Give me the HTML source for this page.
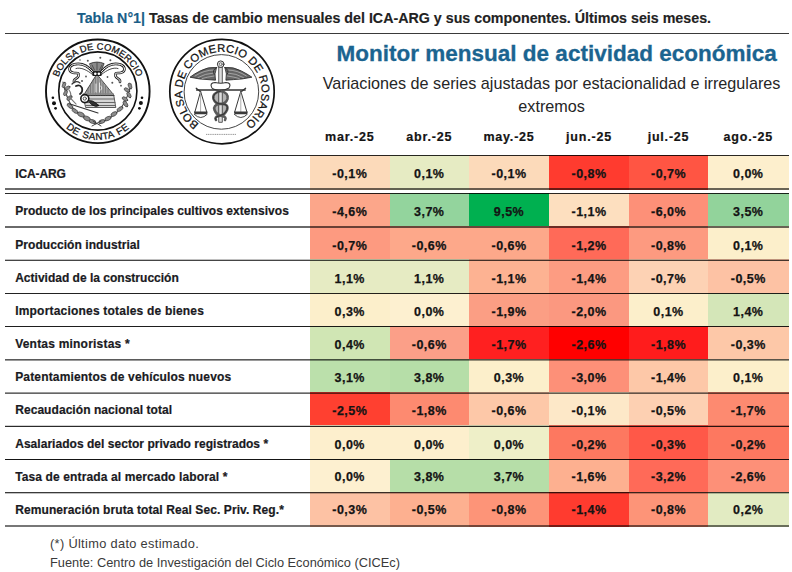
<!DOCTYPE html>
<html lang="es"><head><meta charset="utf-8"><title>Tabla N°1</title>
<style>
*{margin:0;padding:0;box-sizing:border-box}
html,body{width:792px;height:572px;background:#fff;overflow:hidden}
body{position:relative;font-family:"Liberation Sans",sans-serif;color:#1c1c1c}
.a{position:absolute;white-space:pre;line-height:1}
.b{font-weight:bold}
.ln{position:absolute;left:5px;width:784px}
.cell{position:absolute}
.v{position:absolute;-webkit-text-stroke:0.25px #141414;font-weight:bold;text-align:center;line-height:1;font-size:12.5px;letter-spacing:0.45px;color:#141414}
.lb{position:absolute;-webkit-text-stroke:0.2px #1a1a22;left:15.2px;font-weight:bold;font-size:12px;line-height:1;white-space:pre;color:#1a1a22}
.hd{position:absolute;-webkit-text-stroke:0.2px #141414;font-weight:bold;text-align:center;line-height:1;font-size:12.5px;letter-spacing:0.8px;color:#141414}
</style></head>
<body>

<svg class="a" style="left:0;top:0" width="300" height="160" viewBox="0 0 300 160">
<defs>
<path id="p1t" d="M56.73,98.54 A41.7,41.7 0 1 1 138.87,98.54"/>
<path id="p1b" d="M49.94,82.86 A48.6,48.6 0 1 0 145.66,82.86"/>
<path id="p2t" d="M221.31,131.19 A39.6,39.6 0 1 1 222.69,131.19"/>
</defs>
<g fill="none" stroke="#111">
<circle cx="97.8" cy="91.3" r="51.8" stroke-width="1.9"/>
<circle cx="97.8" cy="91.0" r="39.1" stroke-width="1.6"/>
<circle cx="222.0" cy="91.6" r="52.2" stroke-width="1.7"/>
<circle cx="221.4" cy="91.89999999999999" r="37.3" stroke-width="1" stroke="#444"/>
</g>
<g font-family="Liberation Sans" fill="#111" stroke="#111" stroke-width="0.25" text-anchor="middle">
<text font-size="9.4" letter-spacing="0.1"><textPath href="#p1t" startOffset="50%">BOLSA DE COMERCIO</textPath></text>
<text font-size="9.8" letter-spacing="0.45" word-spacing="0.8"><textPath href="#p1b" startOffset="50%">DE SANTA FE</textPath></text>
<text font-size="11.2" letter-spacing="0.2"><textPath href="#p2t" startOffset="50%">BOLSA DE COMERCIO DE ROSARIO</textPath></text>
</g>
<g fill="#111">
<circle cx="52.9" cy="97.8" r="1.3"/><circle cx="54" cy="103.2" r="2"/><circle cx="55.6" cy="108.3" r="1.4"/>
<circle cx="142" cy="97.8" r="1.3"/><circle cx="140.9" cy="103.1" r="2"/><circle cx="139.4" cy="108.3" r="1.4"/>
</g>
<!-- logo1 inner drawing -->
<g stroke-linejoin="round" stroke-linecap="round">
<path d="M83.5,95.5 L113.8,95.5 L115.8,107.5 L86,107.5 Z" fill="#d6d6d6" stroke="#333" stroke-width="0.8"/>
<path d="M84.5,99 L114.3,99 M85,102.5 L115,102.5 M85.5,105.5 L115.4,105.5" stroke="#666" stroke-width="1.1" fill="none"/>
<path d="M96.6,74.5 L83.4,95.5 L113.8,95.5 Z" fill="#a2a2a2" stroke="#333" stroke-width="0.9"/>
<path d="M88,88 L88,95 M90.5,84 L90.5,95 M93,80 L93,95 M95.5,77 L95.5,95 M98,77 L98,95 M100.5,80 L100.5,95 M103,83 L103,95 M105.5,86 L105.5,95 M108,89 L108,95" stroke="#6a6a6a" stroke-width="0.7" fill="none"/>
<path d="M96,84 L96,92 M99.5,83 L99.5,92 M101,86 Q103,88 101,90" stroke="#e8e8e8" stroke-width="1" fill="none"/>
<path d="M83.5,94 L113.2,94" stroke="#888" stroke-width="1.6" fill="none"/>
<path d="M89.8,63.6 Q97,60.5 104.1,63.6 L100.7,71.5 L93.4,71.5 Z" fill="#8a8a8a" stroke="#222" stroke-width="0.8"/>
<path d="M92,65 L94.5,70 M97,63 L97,70 M102,65 L99.5,70" stroke="#333" stroke-width="0.7" fill="none"/>
<rect x="92.3" y="71.3" width="9.4" height="4.6" rx="1" fill="#1a1a1a"/>
<circle cx="95.3" cy="73.7" r="1.3" fill="#fff"/><circle cx="98.9" cy="73.7" r="1.3" fill="#fff"/>
<path d="M92.5,71.5 C88,66 81,62.5 73.5,64.5 C68,66.5 68.5,72 73,72.8 C77,73.5 79.5,72 78.5,76 C77.5,79 73,78.5 74,82" fill="none" stroke="#222" stroke-width="2.6"/><path d="M92.5,71.5 C88,66 81,62.5 73.5,64.5 C68,66.5 68.5,72 73,72.8 C77,73.5 79.5,72 78.5,76 C77.5,79 73,78.5 74,82" fill="none" stroke="#fff" stroke-width="1"/>
<path d="M92.5,74.5 C87,70 81,67 76,68.5" fill="none" stroke="#333" stroke-width="0.9"/>
<path d="M101.5,71.5 C106,66 113,62.5 120.5,64.5 C126,66.5 125.5,72 121,72.8 C117,73.5 114.5,72 115.5,76 C116.5,79 121,78.5 120,82" fill="none" stroke="#222" stroke-width="2.6"/><path d="M101.5,71.5 C106,66 113,62.5 120.5,64.5 C126,66.5 125.5,72 121,72.8 C117,73.5 114.5,72 115.5,76 C116.5,79 121,78.5 120,82" fill="none" stroke="#fff" stroke-width="1"/>
<path d="M101.5,74.5 C107,70 113,67 118,68.5" fill="none" stroke="#333" stroke-width="0.9"/>
<g fill="#555">
<circle cx="87.8" cy="60.7" r="1"/><circle cx="100.3" cy="57.8" r="1"/><circle cx="110.4" cy="60.2" r="1"/>
<circle cx="86" cy="76.5" r="0.9"/><circle cx="82" cy="81" r="1"/><circle cx="107.5" cy="77" r="0.9"/>
<circle cx="112.3" cy="82.8" r="1"/><circle cx="121" cy="85.7" r="0.9"/><circle cx="80" cy="60" r="0.8"/>
</g>
<!-- left branch -->
<path d="M63,82 Q66,98 73,108 Q83,119 96,124" fill="none" stroke="#444" stroke-width="1.1"/>
<g fill="#8c8c8c" stroke="#333" stroke-width="0.6">
<ellipse cx="64" cy="85" rx="2.88" ry="1.56" transform="rotate(-70 64 85)"/>
<ellipse cx="67.5" cy="88" rx="2.88" ry="1.56" transform="rotate(-30 67.5 88)"/>
<ellipse cx="65.5" cy="93" rx="2.88" ry="1.56" transform="rotate(-60 65.5 93)"/>
<ellipse cx="69.5" cy="98" rx="3.12" ry="1.68" transform="rotate(-40 69.5 98)"/>
<ellipse cx="70" cy="106" rx="3.36" ry="1.80" transform="rotate(40 70 106)"/>
<ellipse cx="75" cy="111" rx="3.36" ry="1.80" transform="rotate(35 75 111)"/>
<ellipse cx="81" cy="114.5" rx="3.60" ry="2.16" transform="rotate(25 81 114.5)"/>
<ellipse cx="87" cy="118.5" rx="3.60" ry="2.16" transform="rotate(25 87 118.5)"/>
<ellipse cx="92.5" cy="121.5" rx="3.36" ry="1.92" transform="rotate(15 92.5 121.5)"/>
</g>
<!-- right branch -->
<path d="M131,84 Q128,98 121,108 Q111,119 99,124" fill="none" stroke="#444" stroke-width="1.1"/>
<g fill="#8c8c8c" stroke="#333" stroke-width="0.6">
<ellipse cx="130" cy="86" rx="3.12" ry="1.68" transform="rotate(70 130 86)"/>
<ellipse cx="127" cy="90" rx="3.12" ry="1.68" transform="rotate(30 127 90)"/>
<ellipse cx="129" cy="95" rx="3.12" ry="1.68" transform="rotate(60 129 95)"/>
<ellipse cx="125" cy="99" rx="3.12" ry="1.68" transform="rotate(30 125 99)"/>
<ellipse cx="125.5" cy="104" rx="3.36" ry="1.80" transform="rotate(55 125.5 104)"/>
<ellipse cx="120" cy="109" rx="3.36" ry="1.80" transform="rotate(-35 120 109)"/>
<ellipse cx="114" cy="114" rx="3.36" ry="1.92" transform="rotate(-30 114 114)"/>
<ellipse cx="108" cy="118.5" rx="3.36" ry="1.92" transform="rotate(-25 108 118.5)"/>
<ellipse cx="102" cy="121.5" rx="3.12" ry="1.80" transform="rotate(-15 102 121.5)"/>
</g>
<path d="M92,126 L101,121 M93,121 L101,126" stroke="#333" stroke-width="0.9" fill="none"/>
<!-- horn / snake on left -->
<path d="M76,86 Q80,84 82,88 Q83,92 80,94" fill="none" stroke="#222" stroke-width="1.8"/>
<path d="M72,84 Q76,80 80,83" fill="none" stroke="#333" stroke-width="1.2"/>
<circle cx="84.8" cy="98.6" r="4" fill="#fff" stroke="#1a1a1a" stroke-width="1.6"/>
<circle cx="84.8" cy="98.6" r="1.6" fill="none" stroke="#444" stroke-width="0.9"/>
<path d="M88.5,100.5 Q93,100.5 95,102.5 L99,105.5 Q96,107.5 92,105 Z" fill="#333" stroke="#111" stroke-width="0.9"/>
<path d="M70,104 L98,113" stroke="#333" stroke-width="1.1" fill="none"/>
<path d="M67,96 Q72,99 76,104 M69,90 Q72,94 70,98" stroke="#777" stroke-width="1.2" fill="none"/>
</g>
<!-- logo2 inner drawing -->
<g stroke-linejoin="round" stroke-linecap="round">
<path d="M214,93 Q212.5,99 215,104 Q213,110 216,116 L225,116 Q228,110 226,104 Q228.5,99 227,93 Z" fill="#b4b4b4" stroke="none"/>
<rect x="219.1" y="67" width="3.2" height="55.3" fill="#ddd" stroke="#333" stroke-width="0.8"/>
<circle cx="220.7" cy="64.2" r="3.3" fill="#eee" stroke="#333" stroke-width="1"/>
<circle cx="220.7" cy="64.2" r="1.5" fill="none" stroke="#444" stroke-width="0.7"/>
<path d="M216.5,67.5 Q208,66.5 200,71 Q194,74 190,77.2 Q200,79.5 208,79.6 L215.5,80.2 Q214,74 216.5,67.5 Z" fill="#666" stroke="#222" stroke-width="0.8"/>
<path d="M224.9,67.5 Q233.4,66.5 241.4,71 Q247.4,74 251.9,77.2 Q241.4,79.5 233.4,79.6 L225.9,80.2 Q227.4,74 224.9,67.5 Z" fill="#666" stroke="#222" stroke-width="0.8"/>
<path d="M214,70 Q204,70 195,76 M214,73 Q205,73.5 198,77.5 M214,76 Q207,77 202,78.6 M227.4,70 Q237.4,70 246.4,76 M227.4,73 Q236.4,73.5 243.4,77.5 M227.4,76 Q234.4,77 239.4,78.6" stroke="#cfcfcf" stroke-width="0.6" fill="none"/>
<path d="M216,68 Q212,70 214,74 M225.4,68 Q229.4,70 227.4,74" stroke="#333" stroke-width="1" fill="none"/>
<path d="M212,88 Q209,83 215,82.5 Q221,84 226,82.5 Q232,83 229,88 Q224,91 217,90 Q213,89.5 212,88 Z" fill="#fff" stroke="#333" stroke-width="1.1"/>
<path d="M196.6,90 L245.2,90" stroke="#333" stroke-width="1.4" fill="none"/>
<path d="M196.2,88.3 L200,91.3 M245.6,88.3 L241.8,91.3" stroke="#333" stroke-width="1.3" fill="none"/>
<path d="M200.6,91.3 L194.8,112.3 M200.6,91.3 L206.8,112.3 M240.8,91.3 L234.6,112.3 M240.8,91.3 L247,112.3" stroke="#222" stroke-width="0.9" fill="none"/>
<path d="M200.6,92 L200.6,112 M240.8,92 L240.8,112" stroke="#999" stroke-width="0.8" fill="none"/>
<path d="M194,111.6 L207.5,111.6 L207,114.3 L194.5,114.3 Z M234,111.6 L247.6,111.6 L247.1,114.3 L234.5,114.3 Z" fill="#3a3a3a"/>
<path d="M194.3,114.3 Q200.7,121 207.2,114.3 M234.3,114.3 Q240.8,121 247.3,114.3" stroke="#333" stroke-width="0.9" fill="none"/>
<path d="M220.7,91 Q212,93 213.5,99 Q215,104 222,104 Q229,104 227,110 Q225,115 219,116 Q214,117 216,120 M220.7,91 Q229,93 227.5,99 Q226,104 219.5,104 Q213,105 214.5,110 Q216.5,115 222,116 Q227,117 225,120" fill="none" stroke="#5a5a5a" stroke-width="2.6"/>
<path d="M220.7,91 Q212,93 213.5,99 Q215,104 222,104 Q229,104 227,110 Q225,115 219,116 Q214,117 216,120" fill="none" stroke="#222" stroke-width="0.7"/>
</g>
<path d="M206,134.4 L236.5,134.4" stroke="#999" stroke-width="1" stroke-dasharray="1.2 0.6" fill="none"/>
</svg>
<div class="a b" style="left:77px;top:10.84px;font-size:14.25px;color:#222;-webkit-text-stroke:0.15px #222"><span style="color:#1a5e88;-webkit-text-stroke:0.15px #1a5e88">Tabla N°1|</span> Tasas de cambio mensuales del ICA-ARG y sus componentes. Últimos seis meses.</div><div class="ln" style="top:33px;height:1px;background:#3a3a3a"></div><div class="a b" style="left:336.6px;top:43.15px;font-size:22.5px;color:#1b6490;-webkit-text-stroke:0.3px #1b6490">Monitor mensual de actividad económica</div><div class="a" style="left:251.6px;width:600px;text-align:center;top:74.99px;font-size:16.2px;color:#262626">Variaciones de series ajustadas por estacionalidad e irregulares</div><div class="a" style="left:251.6px;width:600px;text-align:center;top:98.39px;font-size:16.2px;color:#262626">extremos</div><div class="hd" style="left:310.0px;width:79.5px;top:130.92px">mar.-25</div><div class="hd" style="left:389.5px;width:79.5px;top:130.92px">abr.-25</div><div class="hd" style="left:469.0px;width:80.0px;top:130.92px">may.-25</div><div class="hd" style="left:549.0px;width:80.0px;top:130.92px">jun.-25</div><div class="hd" style="left:629.0px;width:79.0px;top:130.92px">jul.-25</div><div class="hd" style="left:708.0px;width:80.5px;top:130.92px">ago.-25</div><div class="cell" style="left:310.0px;top:155.0px;width:79.5px;height:35px;background:#fcdaba"></div><div class="cell" style="left:389.5px;top:155.0px;width:79.5px;height:35px;background:#e6ebc3"></div><div class="cell" style="left:469.0px;top:155.0px;width:80.0px;height:35px;background:#fcdaba"></div><div class="cell" style="left:549.0px;top:155.0px;width:80.0px;height:35px;background:#ff3b2f"></div><div class="cell" style="left:629.0px;top:155.0px;width:79.0px;height:35px;background:#ff5543"></div><div class="cell" style="left:708.0px;top:155.0px;width:80.5px;height:35px;background:#fdefcd"></div><div class="lb" style="top:167.84px;letter-spacing:-0.117px">ICA-ARG</div><div class="v" style="left:310.0px;width:79.5px;top:167.72px">-0,1%</div><div class="v" style="left:389.5px;width:79.5px;top:167.72px">0,1%</div><div class="v" style="left:469.0px;width:80.0px;top:167.72px">-0,1%</div><div class="v" style="left:549.0px;width:80.0px;top:167.72px">-0,8%</div><div class="v" style="left:629.0px;width:79.0px;top:167.72px">-0,7%</div><div class="v" style="left:708.0px;width:80.5px;top:167.72px">0,0%</div><div class="cell" style="left:310.0px;top:193.0px;width:79.5px;height:35px;background:#fca68a"></div><div class="cell" style="left:389.5px;top:193.0px;width:79.5px;height:35px;background:#93d49d"></div><div class="cell" style="left:469.0px;top:193.0px;width:80.0px;height:35px;background:#00b050"></div><div class="cell" style="left:549.0px;top:193.0px;width:80.0px;height:35px;background:#fddfbf"></div><div class="cell" style="left:629.0px;top:193.0px;width:79.0px;height:35px;background:#fd9078"></div><div class="cell" style="left:708.0px;top:193.0px;width:80.5px;height:35px;background:#92d39b"></div><div class="lb" style="top:205.14px;letter-spacing:0.048px">Producto de los principales cultivos extensivos</div><div class="v" style="left:310.0px;width:79.5px;top:205.72px">-4,6%</div><div class="v" style="left:389.5px;width:79.5px;top:205.72px">3,7%</div><div class="v" style="left:469.0px;width:80.0px;top:205.72px">9,5%</div><div class="v" style="left:549.0px;width:80.0px;top:205.72px">-1,1%</div><div class="v" style="left:629.0px;width:79.0px;top:205.72px">-6,0%</div><div class="v" style="left:708.0px;width:80.5px;top:205.72px">3,5%</div><div class="cell" style="left:310.0px;top:226.0px;width:79.5px;height:35px;background:#fd9a80"></div><div class="cell" style="left:389.5px;top:226.0px;width:79.5px;height:35px;background:#fda88a"></div><div class="cell" style="left:469.0px;top:226.0px;width:80.0px;height:35px;background:#fda88a"></div><div class="cell" style="left:549.0px;top:226.0px;width:80.0px;height:35px;background:#ff6a58"></div><div class="cell" style="left:629.0px;top:226.0px;width:79.0px;height:35px;background:#fd9a80"></div><div class="cell" style="left:708.0px;top:226.0px;width:80.5px;height:35px;background:#fcefcb"></div><div class="lb" style="top:238.54px;letter-spacing:0.070px">Producción industrial</div><div class="v" style="left:310.0px;width:79.5px;top:239.72px">-0,7%</div><div class="v" style="left:389.5px;width:79.5px;top:239.72px">-0,6%</div><div class="v" style="left:469.0px;width:80.0px;top:239.72px">-0,6%</div><div class="v" style="left:549.0px;width:80.0px;top:239.72px">-1,2%</div><div class="v" style="left:629.0px;width:79.0px;top:239.72px">-0,8%</div><div class="v" style="left:708.0px;width:80.5px;top:239.72px">0,1%</div><div class="cell" style="left:310.0px;top:259.0px;width:79.5px;height:35px;background:#e6ebc3"></div><div class="cell" style="left:389.5px;top:259.0px;width:79.5px;height:35px;background:#e6ebc3"></div><div class="cell" style="left:469.0px;top:259.0px;width:80.0px;height:35px;background:#fdb292"></div><div class="cell" style="left:549.0px;top:259.0px;width:80.0px;height:35px;background:#fd9c82"></div><div class="cell" style="left:629.0px;top:259.0px;width:79.0px;height:35px;background:#fdd2b4"></div><div class="cell" style="left:708.0px;top:259.0px;width:80.5px;height:35px;background:#fdc2a4"></div><div class="lb" style="top:271.94px;letter-spacing:0.007px">Actividad de la construcción</div><div class="v" style="left:310.0px;width:79.5px;top:272.82px">1,1%</div><div class="v" style="left:389.5px;width:79.5px;top:272.82px">1,1%</div><div class="v" style="left:469.0px;width:80.0px;top:272.82px">-1,1%</div><div class="v" style="left:549.0px;width:80.0px;top:272.82px">-1,4%</div><div class="v" style="left:629.0px;width:79.0px;top:272.82px">-0,7%</div><div class="v" style="left:708.0px;width:80.5px;top:272.82px">-0,5%</div><div class="cell" style="left:310.0px;top:293.0px;width:79.5px;height:34px;background:#fcefcb"></div><div class="cell" style="left:389.5px;top:293.0px;width:79.5px;height:34px;background:#fdf0d0"></div><div class="cell" style="left:469.0px;top:293.0px;width:80.0px;height:34px;background:#fb9e84"></div><div class="cell" style="left:549.0px;top:293.0px;width:80.0px;height:34px;background:#fb9880"></div><div class="cell" style="left:629.0px;top:293.0px;width:79.0px;height:34px;background:#fcefcb"></div><div class="cell" style="left:708.0px;top:293.0px;width:80.5px;height:34px;background:#d4e6b8"></div><div class="lb" style="top:305.14px;letter-spacing:0.200px">Importaciones totales de bienes</div><div class="v" style="left:310.0px;width:79.5px;top:305.82px">0,3%</div><div class="v" style="left:389.5px;width:79.5px;top:305.82px">0,0%</div><div class="v" style="left:469.0px;width:80.0px;top:305.82px">-1,9%</div><div class="v" style="left:549.0px;width:80.0px;top:305.82px">-2,0%</div><div class="v" style="left:629.0px;width:79.0px;top:305.82px">0,1%</div><div class="v" style="left:708.0px;width:80.5px;top:305.82px">1,4%</div><div class="cell" style="left:310.0px;top:326.0px;width:79.5px;height:35px;background:#d0e6b4"></div><div class="cell" style="left:389.5px;top:326.0px;width:79.5px;height:35px;background:#fb9f88"></div><div class="cell" style="left:469.0px;top:326.0px;width:80.0px;height:35px;background:#ff2020"></div><div class="cell" style="left:549.0px;top:326.0px;width:80.0px;height:35px;background:#ff0000"></div><div class="cell" style="left:629.0px;top:326.0px;width:79.0px;height:35px;background:#ff1c1c"></div><div class="cell" style="left:708.0px;top:326.0px;width:80.5px;height:35px;background:#fdc8a8"></div><div class="lb" style="top:338.14px;letter-spacing:0.206px">Ventas minoristas *</div><div class="v" style="left:310.0px;width:79.5px;top:338.82px">0,4%</div><div class="v" style="left:389.5px;width:79.5px;top:338.82px">-0,6%</div><div class="v" style="left:469.0px;width:80.0px;top:338.82px">-1,7%</div><div class="v" style="left:549.0px;width:80.0px;top:338.82px">-2,6%</div><div class="v" style="left:629.0px;width:79.0px;top:338.82px">-1,8%</div><div class="v" style="left:708.0px;width:80.5px;top:338.82px">-0,3%</div><div class="cell" style="left:310.0px;top:359.0px;width:79.5px;height:35px;background:#bbe0ab"></div><div class="cell" style="left:389.5px;top:359.0px;width:79.5px;height:35px;background:#b6dea8"></div><div class="cell" style="left:469.0px;top:359.0px;width:80.0px;height:35px;background:#fcefcb"></div><div class="cell" style="left:549.0px;top:359.0px;width:80.0px;height:35px;background:#fd9078"></div><div class="cell" style="left:629.0px;top:359.0px;width:79.0px;height:35px;background:#fdc8a8"></div><div class="cell" style="left:708.0px;top:359.0px;width:80.5px;height:35px;background:#fcefcb"></div><div class="lb" style="top:371.24px;letter-spacing:0.158px">Patentamientos de vehículos nuevos</div><div class="v" style="left:310.0px;width:79.5px;top:372.02px">3,1%</div><div class="v" style="left:389.5px;width:79.5px;top:372.02px">3,8%</div><div class="v" style="left:469.0px;width:80.0px;top:372.02px">0,3%</div><div class="v" style="left:549.0px;width:80.0px;top:372.02px">-3,0%</div><div class="v" style="left:629.0px;width:79.0px;top:372.02px">-1,4%</div><div class="v" style="left:708.0px;width:80.5px;top:372.02px">0,1%</div><div class="cell" style="left:310.0px;top:392.0px;width:79.5px;height:35px;background:#ff4030"></div><div class="cell" style="left:389.5px;top:392.0px;width:79.5px;height:35px;background:#fd8a70"></div><div class="cell" style="left:469.0px;top:392.0px;width:80.0px;height:35px;background:#fdc8a8"></div><div class="cell" style="left:549.0px;top:392.0px;width:80.0px;height:35px;background:#fde8c8"></div><div class="cell" style="left:629.0px;top:392.0px;width:79.0px;height:35px;background:#fdd0b2"></div><div class="cell" style="left:708.0px;top:392.0px;width:80.5px;height:35px;background:#fd8a70"></div><div class="lb" style="top:404.44px;letter-spacing:0.060px">Recaudación nacional total</div><div class="v" style="left:310.0px;width:79.5px;top:405.32px">-2,5%</div><div class="v" style="left:389.5px;width:79.5px;top:405.32px">-1,8%</div><div class="v" style="left:469.0px;width:80.0px;top:405.32px">-0,6%</div><div class="v" style="left:549.0px;width:80.0px;top:405.32px">-0,1%</div><div class="v" style="left:629.0px;width:79.0px;top:405.32px">-0,5%</div><div class="v" style="left:708.0px;width:80.5px;top:405.32px">-1,7%</div><div class="cell" style="left:310.0px;top:425.0px;width:79.5px;height:35px;background:#fdefcd"></div><div class="cell" style="left:389.5px;top:425.0px;width:79.5px;height:35px;background:#fdefcd"></div><div class="cell" style="left:469.0px;top:425.0px;width:80.0px;height:35px;background:#eeefc8"></div><div class="cell" style="left:549.0px;top:425.0px;width:80.0px;height:35px;background:#fd7860"></div><div class="cell" style="left:629.0px;top:425.0px;width:79.0px;height:35px;background:#ff5848"></div><div class="cell" style="left:708.0px;top:425.0px;width:80.5px;height:35px;background:#fd7860"></div><div class="lb" style="top:437.94px;letter-spacing:0.035px">Asalariados del sector privado registrados *</div><div class="v" style="left:310.0px;width:79.5px;top:438.52px">0,0%</div><div class="v" style="left:389.5px;width:79.5px;top:438.52px">0,0%</div><div class="v" style="left:469.0px;width:80.0px;top:438.52px">0,0%</div><div class="v" style="left:549.0px;width:80.0px;top:438.52px">-0,2%</div><div class="v" style="left:629.0px;width:79.0px;top:438.52px">-0,3%</div><div class="v" style="left:708.0px;width:80.5px;top:438.52px">-0,2%</div><div class="cell" style="left:310.0px;top:459.0px;width:79.5px;height:35px;background:#fdf0d0"></div><div class="cell" style="left:389.5px;top:459.0px;width:79.5px;height:35px;background:#b6dea8"></div><div class="cell" style="left:469.0px;top:459.0px;width:80.0px;height:35px;background:#b6dea8"></div><div class="cell" style="left:549.0px;top:459.0px;width:80.0px;height:35px;background:#fdb090"></div><div class="cell" style="left:629.0px;top:459.0px;width:79.0px;height:35px;background:#ff6a58"></div><div class="cell" style="left:708.0px;top:459.0px;width:80.5px;height:35px;background:#fd9078"></div><div class="lb" style="top:471.04px;letter-spacing:0.123px">Tasa de entrada al mercado laboral *</div><div class="v" style="left:310.0px;width:79.5px;top:471.32px">0,0%</div><div class="v" style="left:389.5px;width:79.5px;top:471.32px">3,8%</div><div class="v" style="left:469.0px;width:80.0px;top:471.32px">3,7%</div><div class="v" style="left:549.0px;width:80.0px;top:471.32px">-1,6%</div><div class="v" style="left:629.0px;width:79.0px;top:471.32px">-3,2%</div><div class="v" style="left:708.0px;width:80.5px;top:471.32px">-2,6%</div><div class="cell" style="left:310.0px;top:492.0px;width:79.5px;height:35px;background:#fdc2a4"></div><div class="cell" style="left:389.5px;top:492.0px;width:79.5px;height:35px;background:#fdb090"></div><div class="cell" style="left:469.0px;top:492.0px;width:80.0px;height:35px;background:#fd9478"></div><div class="cell" style="left:549.0px;top:492.0px;width:80.0px;height:35px;background:#ff3b2f"></div><div class="cell" style="left:629.0px;top:492.0px;width:79.0px;height:35px;background:#fd9478"></div><div class="cell" style="left:708.0px;top:492.0px;width:80.5px;height:35px;background:#e2ebc2"></div><div class="lb" style="top:504.04px;letter-spacing:0.093px">Remuneración bruta total Real Sec. Priv. Reg.*</div><div class="v" style="left:310.0px;width:79.5px;top:504.02px">-0,3%</div><div class="v" style="left:389.5px;width:79.5px;top:504.02px">-0,5%</div><div class="v" style="left:469.0px;width:80.0px;top:504.02px">-0,8%</div><div class="v" style="left:549.0px;width:80.0px;top:504.02px">-1,4%</div><div class="v" style="left:629.0px;width:79.0px;top:504.02px">-0,8%</div><div class="v" style="left:708.0px;width:80.5px;top:504.02px">0,2%</div><div class="ln" style="top:155px;height:1px;background:rgba(0,0,0,0.835)"></div><div class="ln" style="top:188px;height:1px;background:rgba(0,0,0,0.584)"></div><div class="ln" style="top:189px;height:1px;background:rgba(0,0,0,0.584)"></div><div class="ln" style="top:193px;height:1px;background:rgba(0,0,0,0.835)"></div><div class="ln" style="top:226px;height:1px;background:rgba(0,0,0,0.584)"></div><div class="ln" style="top:227px;height:1px;background:rgba(0,0,0,0.584)"></div><div class="ln" style="top:259px;height:1px;background:rgba(0,0,0,0.247)"></div><div class="ln" style="top:260px;height:1px;background:rgba(0,0,0,0.729)"></div><div class="ln" style="top:293px;height:1px;background:rgba(0,0,0,0.867)"></div><div class="ln" style="top:326px;height:1px;background:rgba(0,0,0,0.882)"></div><div class="ln" style="top:359px;height:1px;background:rgba(0,0,0,0.647)"></div><div class="ln" style="top:360px;height:1px;background:rgba(0,0,0,0.396)"></div><div class="ln" style="top:392px;height:1px;background:rgba(0,0,0,0.396)"></div><div class="ln" style="top:393px;height:1px;background:rgba(0,0,0,0.600)"></div><div class="ln" style="top:425px;height:1px;background:rgba(0,0,0,0.184)"></div><div class="ln" style="top:426px;height:1px;background:rgba(0,0,0,0.835)"></div><div class="ln" style="top:459px;height:1px;background:rgba(0,0,0,0.918)"></div><div class="ln" style="top:492px;height:1px;background:rgba(0,0,0,0.773)"></div><div class="ln" style="top:493px;height:1px;background:rgba(0,0,0,0.247)"></div><div class="ln" style="top:525px;height:1px;background:rgba(0,0,0,0.533)"></div><div class="ln" style="top:526px;height:1px;background:rgba(0,0,0,0.533)"></div><div class="a" style="left:50px;top:538.26px;font-size:12.8px;color:#3a3a3a;letter-spacing:0.33px">(*) Último dato estimado.</div><div class="a" style="left:50px;top:557.16px;font-size:12.8px;color:#3a3a3a">Fuente: Centro de Investigación del Ciclo Económico (CICEc)</div>
</body></html>
